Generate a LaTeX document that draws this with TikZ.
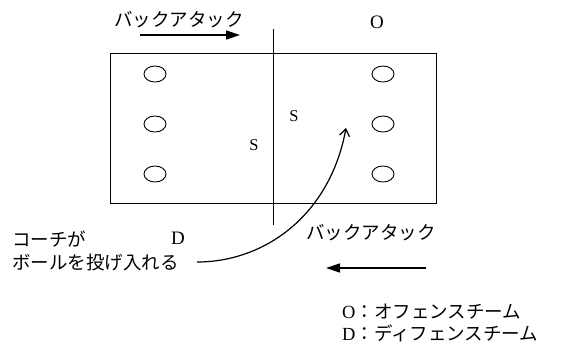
\documentclass[tikz,border=0pt]{standalone}
\usepackage{fontspec}
\setmainfont{Liberation Serif}
\newfontfamily\jp{Noto Sans CJK JP}
\usetikzlibrary{arrows.meta,positioning,shapes.geometric}

\begin{document}
\begin{tikzpicture}[x=1pt,y=-1pt,
  court/.style={draw,line width=1pt},
  player/.style={draw,ellipse,line width=0.9pt,minimum width=22pt,
                 minimum height=16pt,inner sep=0pt},
  jplabel/.style={font=\jp\fontsize{18.5}{22.5}\selectfont,align=left,inner sep=0pt},
  letter/.style={font=\fontsize{19}{20}\selectfont,inner sep=0pt},
  setter/.style={font=\fontsize{16.5}{18}\selectfont,inner sep=0pt},
  runarrow/.style={line width=1.5pt,-{Triangle[length=14pt,width=9pt]}}]
  \useasboundingbox (0,0) rectangle (583,349);
  % court and net
  \draw[court] (110,53) rectangle (436,203);
  \coordinate (netT) at (273,29);
  \coordinate (netB) at (273,225);
  \draw[line width=0.9pt] (netT) -- (netB);
  % players
  \foreach \i/\y in {1/74,2/124,3/174}{
    \node[player] (L\i) at (155,\y) {};
    \node[player] (R\i) at (383,\y) {};
  }
  \node[setter] (S1) at (294,116) {S};
  \node[setter] (S2) at (254,145) {S};
  \node[letter] (O) at (377,22) {O};
  \node[letter] (D) at (178,238) {D};
  % back attacks
  \node[jplabel] (backT) at (179,20) {バックアタック};
  \coordinate (aT1) at (140,35);
  \coordinate (aT2) at (240,35);
  \draw[runarrow] (aT1) -- (aT2);
  \node[jplabel] (backB) at (371,233) {バックアタック};
  \coordinate (aB1) at (426,268);
  \coordinate (aB2) at (326,268);
  \draw[runarrow] (aB1) -- (aB2);
  % coach throws the ball in
  \node[jplabel,anchor=west] (coach) at (12,251) {コーチが\\ボールを投げ入れる};
  \coordinate (throw) at (197,262);
  \coordinate (ball) at (346,128);
  \draw[line width=1.2pt,-{Straight Barb[length=7pt,width=10pt]}]
    (throw) .. controls (265,262) and (330,215) .. (ball);
  % legend
  \node[jplabel,anchor=west] (legend) at (342,323)
    {{\rmfamily O}：オフェンスチーム\\{\rmfamily D}：ディフェンスチーム};
\end{tikzpicture}
\end{document}
